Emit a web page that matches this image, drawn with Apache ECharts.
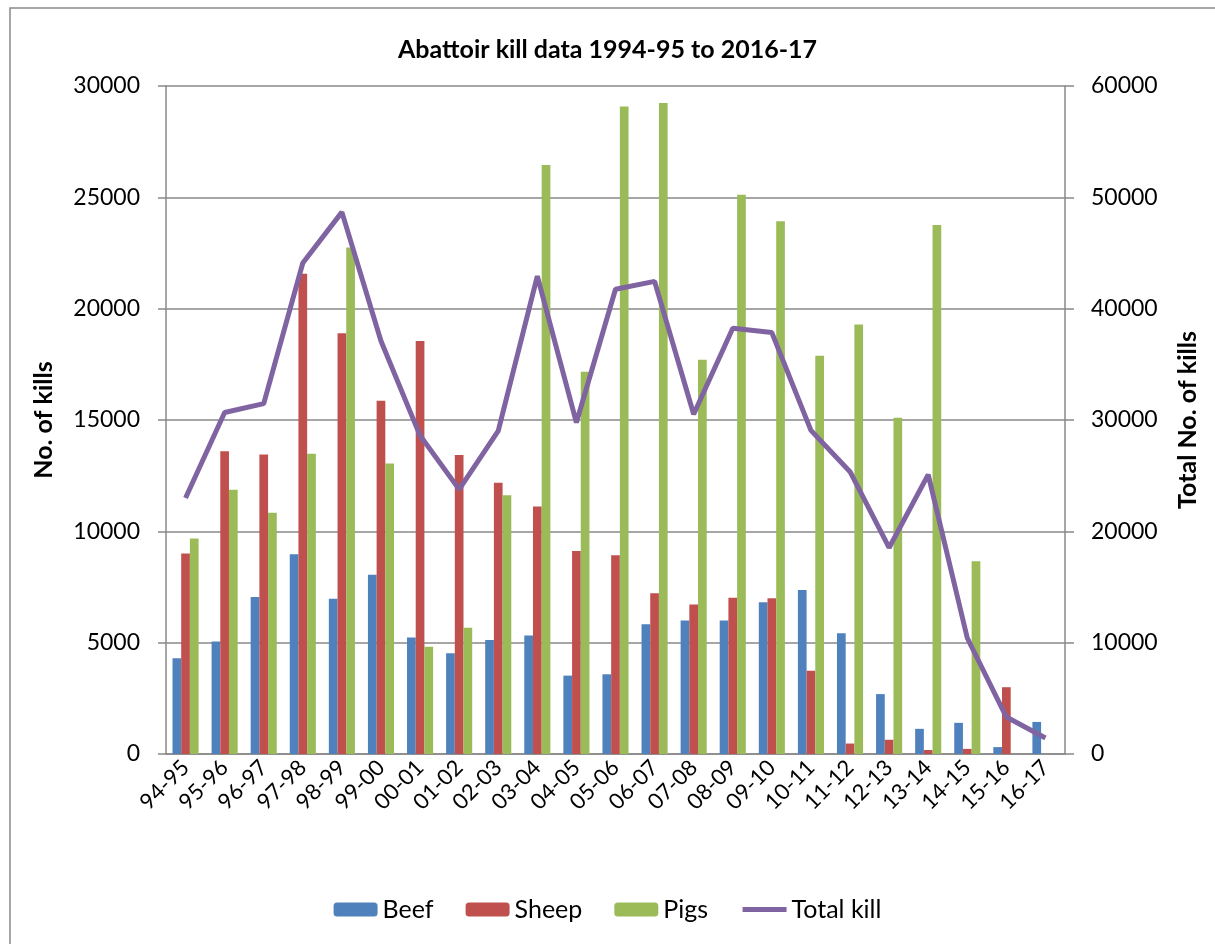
<!DOCTYPE html>
<html>
<head>
<meta charset="utf-8">
<script src="https://cdn.jsdelivr.net/npm/echarts@6/dist/echarts.min.js"></script>
<style>
html, body { margin: 0; padding: 0; width: 100%; height: 100%; background: #fff; }
#chart { width: 1215px; height: 944px; }
</style>
</head>
<body>
<div id="chart"></div>
<script>
// kill data
var seasons = ['94-95','95-96','96-97','97-98','98-99','99-00','00-01','01-02','02-03','03-04','04-05','05-06',
               '06-07','07-08','08-09','09-10','10-11','11-12','12-13','13-14','14-15','15-16','16-17'];
var beef  = [4300,5050,7050,8970,6970,8050,5230,4520,5120,5320,3520,3580,5830,5990,5990,6810,7370,5420,2690,1130,1400,310,1440];
var sheep = [9000,13600,13450,21570,18900,15870,18550,13430,12180,11120,9120,8930,7220,6710,7020,7000,3740,470,640,180,230,3000,0];
var pigs  = [9680,11870,10830,13480,22750,13050,4820,5670,11620,26450,17170,29080,29240,17710,25120,23930,17890,19290,15100,23760,8660,0,0];
var totalKill = [23000,30670,31470,44100,48670,37100,28600,23770,29030,42930,29770,41750,42450,30510,38240,37850,29070,25360,18530,25090,10420,3320,1440];
var leftTicks = [0, 30000, 5000];
var rightTicks = [0, 60000, 10000];

var chart = echarts.init(document.getElementById('chart'));
var font = 'Lato, "Open Sans", sans-serif';
var grey = '#898989';
var plain = function (v) { return String(v); };

var option = {
  animation: false,
  textStyle: { fontFamily: font, color: '#000' },
  graphic: [{
    type: 'rect',
    shape: { x: 10, y: 8, width: 1300, height: 1000 },
    style: { fill: 'none', stroke: grey, lineWidth: 1.5 },
    silent: true
  }],
  title: {
    text: 'Abattoir kill data 1994-95 to 2016-17',
    left: 'center',
    top: 32,
    textStyle: { fontFamily: font, fontSize: 25, fontWeight: 'bold', color: '#000' }
  },
  legend: {
    bottom: 17,
    left: 'center',
    itemWidth: 44,
    itemHeight: 14,
    itemGap: 32,
    textStyle: { fontFamily: font, fontSize: 25, color: '#000' },
    data: ['Beef', 'Sheep', 'Pigs',
      { name: 'Total kill', itemStyle: { opacity: 0 }, lineStyle: { width: 5 } }]
  },
  grid: { left: 166, right: 150, top: 86, bottom: 190 },
  xAxis: {
    type: 'category',
    data: seasons,
    axisLine: { lineStyle: { color: grey, width: 1.5 } },
    axisTick: { length: 8, lineStyle: { color: grey, width: 1.5 } },
    axisLabel: { rotate: 45, fontSize: 22, color: '#000', margin: 10, interval: 0 }
  },
  yAxis: [{
    type: 'value',
    name: 'No. of kills',
    nameLocation: 'middle',
    nameGap: 110,
    nameTextStyle: { fontSize: 25, fontWeight: 'bold', color: '#000' },
    min: leftTicks[0], max: leftTicks[1], interval: leftTicks[2],
    axisLine: { show: true, lineStyle: { color: grey, width: 1.5 } },
    axisTick: { show: true, length: 8, lineStyle: { color: grey, width: 1.5 } },
    axisLabel: { fontSize: 23, color: '#000', margin: 26, formatter: plain },
    splitLine: { lineStyle: { color: grey, width: 1.5 } }
  }, {
    type: 'value',
    name: 'Total No. of kills',
    nameLocation: 'middle',
    nameGap: 110,
    nameRotate: 90,
    nameTextStyle: { fontSize: 25, fontWeight: 'bold', color: '#000' },
    min: rightTicks[0], max: rightTicks[1], interval: rightTicks[2],
    axisLine: { show: true, lineStyle: { color: grey, width: 1.5 } },
    axisTick: { show: true, length: 9, lineStyle: { color: grey, width: 1.5 } },
    axisLabel: { fontSize: 23, color: '#000', margin: 26, formatter: plain },
    splitLine: { show: false }
  }],
  series: [
    { name: 'Beef', type: 'bar', data: beef, barWidth: 8.7, barGap: '0%',
      itemStyle: { color: '#4F81BD' } },
    { name: 'Sheep', type: 'bar', data: sheep, barWidth: 8.7, barGap: '0%',
      itemStyle: { color: '#C0504D' } },
    { name: 'Pigs', type: 'bar', data: pigs, barWidth: 8.7, barGap: '0%',
      itemStyle: { color: '#9BBB59' } },
    { name: 'Total kill', type: 'line', yAxisIndex: 1, data: totalKill,
      symbol: 'none', lineStyle: { color: '#8064A2', width: 5 },
      itemStyle: { color: '#8064A2' } }
  ]
};
chart.setOption(option);
</script>
</body>
</html>
